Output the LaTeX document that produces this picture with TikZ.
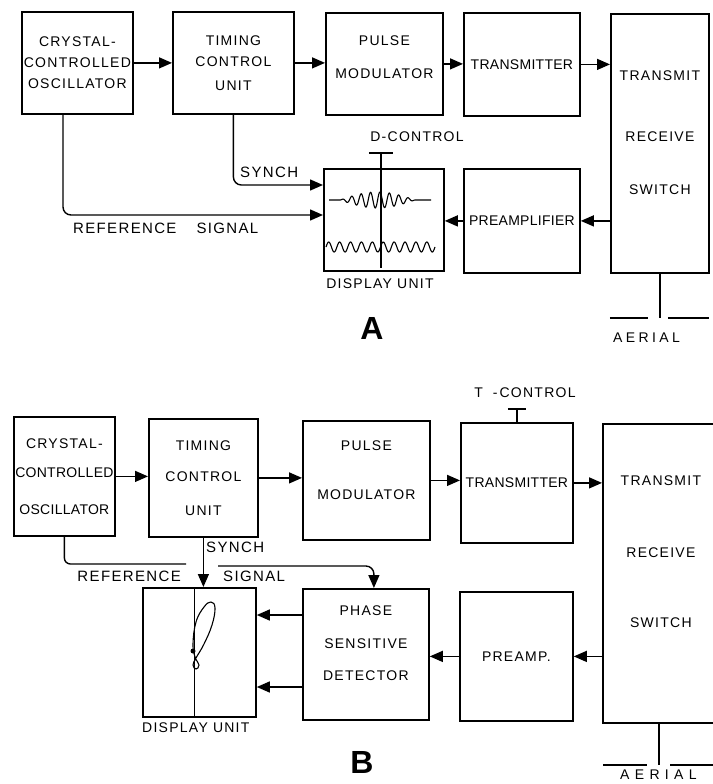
\documentclass[tikz,border=0pt]{standalone}
\usepackage{fontspec}
\setmainfont{Liberation Sans}
\newfontfamily\lettering[LetterSpace=9]{Liberation Sans}
\newfontfamily\narrowlettering[LetterSpace=2]{Liberation Sans}
\usetikzlibrary{arrows.meta,calc}

\begin{document}
\begin{tikzpicture}[
	x=1pt, y=-1pt,
	unit/.style={draw, line width=1.8pt, inner sep=0pt, align=center, anchor=north west, font=\lettering\fontsize{14}{17}\selectfont},
	feed/.style={line width=1.4pt, -{Triangle[length=13pt,width=11pt]}},
	wire/.style={line width=1.4pt},
	trace/.style={line width=1.1pt},
	tag/.style={inner sep=0pt, font=\lettering\fontsize{14}{17}\selectfont},
	biglabel/.style={inner sep=0pt, font=\lettering\fontsize{15}{18}\selectfont},
	panel/.style={inner sep=0pt, font=\bfseries\fontsize{32}{32}\selectfont}
	]
	\useasboundingbox (0,0) rectangle (712,784);

	% ================= A =================
	% Blocks
	\node[unit, minimum width=111pt, minimum height=102pt] (oscA) at (21,11) {CRYSTAL-\\[4pt]CONTROLLED\\[4pt]OSCILLATOR};
	\node[unit, minimum width=121pt, minimum height=102pt] (timA) at (172,11) {TIMING\\[4pt]CONTROL\\[7pt]UNIT};
	\node[unit, minimum width=117pt, minimum height=102pt] (pulA) at (325,12) {PULSE\\[16pt]MODULATOR\\[-4pt]\mbox{}};
	\node[unit, minimum width=116pt, minimum height=103pt] (traA) at (463,12) {\narrowlettering TRANSMITTER};
	\node[unit, minimum width=98pt, minimum height=259pt] (swA) at (610,13) {TRANSMIT\\[44pt]RECEIVE\\[36pt]SWITCH\\[5pt]\mbox{}};
	\node[unit, minimum width=116pt, minimum height=104pt] (preA) at (463,168) {\narrowlettering PREAMPLIFIER};
	\node[unit, minimum width=120pt, minimum height=102pt] (dispA) at (323,168) {};

	% Signal flow
	\draw[feed] (oscA.east) -- (oscA.east -| timA.west);
	\draw[feed] (timA.east) -- (timA.east -| pulA.west);
	\draw[feed] (pulA.east) -- (pulA.east -| traA.west);
	\draw[feed] (traA.east) -- (traA.east -| swA.west);
	\draw[feed] (swA.west |- preA.east) -- (preA.east);
	\draw[feed] (preA.west) -- (preA.west -| dispA.east);
	\draw[feed, rounded corners=8pt] (timA.south) |- ($(dispA.north west)+(0,17)$);
	\draw[feed, rounded corners=8pt] ($(oscA.south west)+(42,0)$) |- ($(dispA.north west)+(0,47)$);

	% D-control knob and display traces
	\coordinate (dknob) at ($(dispA.north)+(-3,-15)$);
	\draw[wire] (dknob) -- ($(dispA.south)+(-3,-4)$);
	\draw[wire] ($(dknob)+(-12,0)$) -- ($(dknob)+(12,0)$);
	\draw[trace] (329,200) -- (340,200) -- plot[domain=0:75, samples=160] ({\x+340}, {200 - 8*sin(2.4*\x)*sin(38.3*\x)}) -- (431,200);
	\draw[trace] plot[domain=0:109, samples=200] ({\x+326}, {247 - 5*sin(33.03*\x)});

	% Aerial
	\coordinate (aerA) at ($(swA.south)+(0,44)$);
	\draw[wire] (swA.south) -- (aerA);
	\draw[line width=2pt] ($(aerA)+(-50,0)$) -- ($(aerA)+(-12,0)$);
	\draw[line width=2pt] ($(aerA)+(8,0)$) -- ($(aerA)+(49,0)$);

	% Labels
	\node[biglabel, anchor=west] (synA) at (240,172) {SYNCH};
	\node[biglabel, anchor=west] (refA) at (73,228) {REFERENCE\hspace{20pt}SIGNAL};
	\node[tag] (dctl) at (417,137) {D-CONTROL};
	\node[tag] (dispAtxt) at (380,284) {DISPLAY UNIT};
	\node[panel] (panA) at (372,328) {A};
	\node[tag, anchor=west] (aerAtxt) at (613,338) {\addfontfeature{LetterSpace=24}AERIAL};

	% ================= B =================
	% Blocks
	\node[unit, minimum width=101pt, minimum height=119pt] (oscB) at (13,416) {CRYSTAL-\\[12pt]{\narrowlettering CONTROLLED}\\[20pt]{\narrowlettering OSCILLATOR}};
	\node[unit, minimum width=109pt, minimum height=118pt] (timB) at (148,418) {TIMING\\[14pt]CONTROL\\[17pt]UNIT};
	\node[unit, minimum width=127pt, minimum height=119pt] (pulB) at (302,420) {PULSE\\[32pt]MODULATOR\\[3pt]\mbox{}};
	\node[unit, minimum width=112pt, minimum height=120pt] (traB) at (460,422) {\narrowlettering TRANSMITTER};
	\node[unit, minimum width=116pt, minimum height=299pt] (swB) at (602,423) {TRANSMIT\\[55pt]RECEIVE\\[53pt]SWITCH\\[26pt]\mbox{}};
	\node[unit, minimum width=126pt, minimum height=131pt] (psdB) at (302,588) {PHASE\\[16pt]SENSITIVE\\[15pt]DETECTOR\\[5pt]\mbox{}};
	\node[unit, minimum width=113pt, minimum height=129pt] (preB) at (459,591) {PREAMP.};
	\node[unit, minimum width=113pt, minimum height=129pt] (dispB) at (142,587) {};

	% Signal flow
	\draw[feed] (oscB.east) -- (oscB.east -| timB.west);
	\draw[feed] (timB.east) -- (timB.east -| pulB.west);
	\draw[feed] (pulB.east) -- (pulB.east -| traB.west);
	\draw[feed] (traB.east) -- (traB.east -| swB.west);
	\draw[feed] (swB.west |- preB.east) -- (preB.east);
	\draw[feed] (preB.west) -- (preB.west -| psdB.east);
	\coordinate (psdHi) at ($(psdB.north west)+(0,27)$);
	\coordinate (psdLo) at ($(psdB.north west)+(0,99)$);
	\draw[feed] (psdHi) -- (psdHi -| dispB.east);
	\draw[feed] (psdLo) -- (psdLo -| dispB.east);
	\draw[feed] (timB.south) -- (timB.south |- dispB.north);
	% reference line broken where it crosses synch
	\coordinate (refL) at (186,564);
	\coordinate (refR) at (218,566);
	\draw[wire, rounded corners=6pt] (oscB.south) |- (refL);
	\draw[feed, rounded corners=8pt] (refR) -| ($(psdB.north)+(8,0)$);

	% T-control knob
	\coordinate (tknob) at ($(traB.north)+(0,-13)$);
	\draw[wire] (traB.north) -- (tknob);
	\draw[wire] ($(tknob)+(-9,0)$) -- ($(tknob)+(9,0)$);

	% Display trace
	\draw[trace] ($(dispB.north)+(-4.5,0)$) -- ($(dispB.south)+(-4.5,0)$);
	\draw[trace] plot[smooth cycle, tension=0.7] coordinates {(195,657) (193,644) (196,622) (204,607) (211,602) (215,608) (212,625) (204,644) (196,658) (193,665) (196,669) (199,665)};
	\fill (193,651) circle (2.5pt);

	% Aerial
	\coordinate (aerB) at (659,765);
	\draw[wire] (swB.south -| aerB) -- (aerB);
	\draw[line width=2pt] ($(aerB)+(-56,0)$) -- ($(aerB)+(-12,0)$);
	\draw[line width=2pt] ($(aerB)+(11,0)$) -- ($(aerB)+(57,0)$);

	% Labels
	\node[tag] (tctl) at (525,393) {T\hspace{10pt}-\hspace{2pt}CONTROL};
	\node[biglabel, anchor=west] (synB) at (206,547) {SYNCH};
	\node[biglabel, anchor=east] (refB) at (181,576) {REFERENCE};
	\node[biglabel, anchor=west] (sigB) at (223,576) {SIGNAL};
	\node[tag, anchor=west] (dispBtxt) at (142,728) {DISPLAY UNIT};
	\node[panel] (panB) at (362,762) {B};
	\node[tag, anchor=west] (aerBtxt) at (620,775) {\addfontfeature{LetterSpace=38}AERIAL};
\end{tikzpicture}
\end{document}
